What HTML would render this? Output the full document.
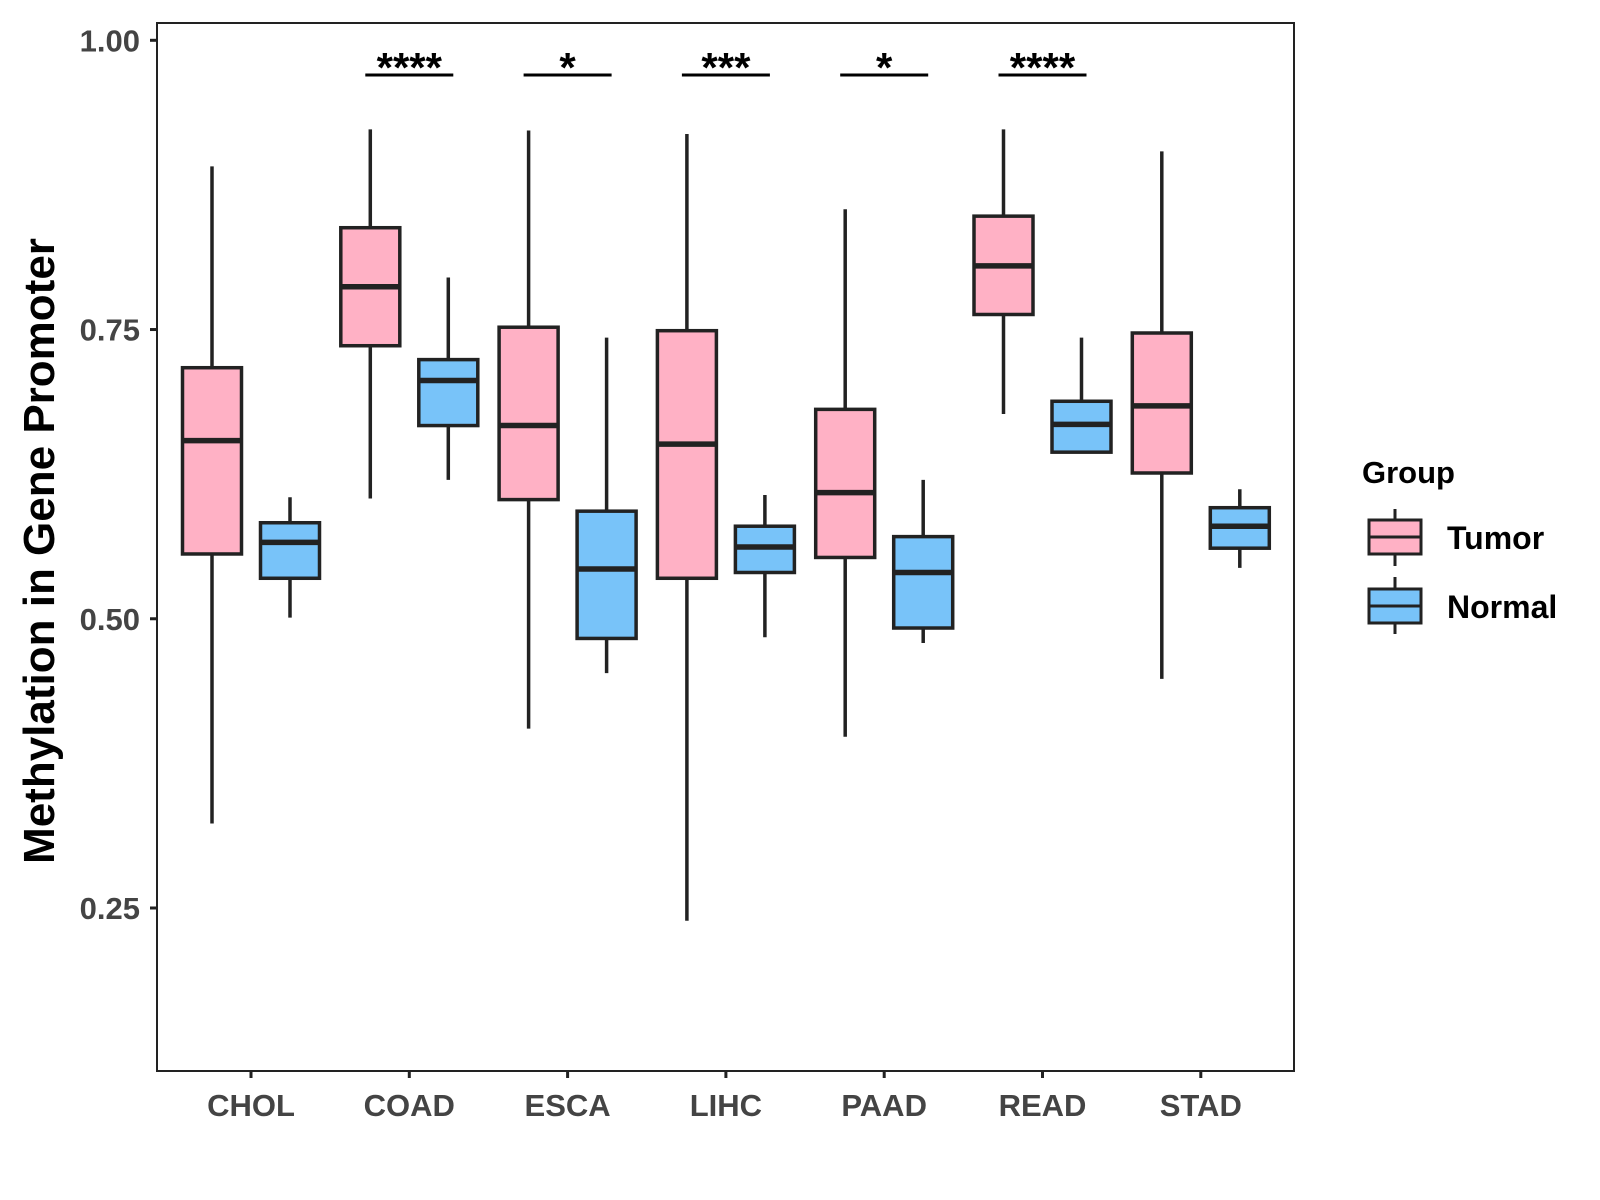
<!DOCTYPE html>
<html><head><meta charset="utf-8"><style>
body{margin:0;background:#fff}
svg{display:block;font-family:"Liberation Sans",Arial,sans-serif;font-weight:bold}
</style></head><body>
<svg id="chart" width="1600" height="1200" viewBox="0 0 1600 1200" xmlns="http://www.w3.org/2000/svg">
<rect x="157" y="23" width="1137" height="1048" fill="#fff" stroke="#222" stroke-width="2"/>
<g id="yaxis"></g>
<g id="xaxis"></g>
<g id="boxes"></g>
<g id="sig"></g>
<text transform="translate(54,551) rotate(-90)" text-anchor="middle" font-size="44" fill="#000">Methylation in Gene Promoter</text>
<g>
<text x="1362" y="483" font-size="31" fill="#000">Group</text>
<g>
<line x1="1395" y1="509" x2="1395" y2="566" stroke="#222" stroke-width="3"/>
<rect x="1369" y="520" width="52" height="34" fill="#ffb1c5" stroke="#222" stroke-width="3"/>
<line x1="1369" y1="537" x2="1421" y2="537" stroke="#222" stroke-width="3"/>
<text x="1447" y="549" font-size="32" fill="#000">Tumor</text></g>
<g>
<line x1="1395" y1="577" x2="1395" y2="634" stroke="#222" stroke-width="3"/>
<rect x="1369" y="589" width="52" height="34" fill="#78c3f9" stroke="#222" stroke-width="3"/>
<line x1="1369" y1="606" x2="1421" y2="606" stroke="#222" stroke-width="3"/>
<text x="1447" y="618" font-size="32" fill="#000">Normal</text></g>
</g>
</svg>
<script>
const categories=["CHOL","COAD","ESCA","LIHC","PAAD","READ","STAD"];
const tumorLow=[0.323,0.604,0.405,0.239,0.398,0.677,0.448];
const tumorQ1=[0.556,0.736,0.603,0.535,0.553,0.763,0.626];
const tumorMed=[0.654,0.787,0.667,0.651,0.609,0.805,0.684];
const tumorQ3=[0.717,0.838,0.752,0.749,0.681,0.848,0.747];
const tumorHigh=[0.891,0.923,0.922,0.919,0.854,0.923,0.904];
const normalLow=[0.501,0.620,0.453,0.484,0.479,0.644,0.544];
const normalQ1=[0.535,0.667,0.483,0.540,0.492,0.644,0.561];
const normalMed=[0.566,0.706,0.543,0.562,0.540,0.668,0.580];
const normalQ3=[0.583,0.724,0.593,0.580,0.571,0.688,0.596];
const normalHigh=[0.605,0.795,0.743,0.607,0.620,0.743,0.612];
const sigLabels=["","****","*","***","*","****",""];
const yTicks=[0.25,0.5,0.75,1.0];
const yTickLabels=["0.25","0.50","0.75","1.00"];
const sigLevel=0.970;

const NS="http://www.w3.org/2000/svg";
const y=v=>908-(v-0.25)*(867.7/0.75);
const x=i=>251+i*158.3;
function mk(tag,attrs,parent){const e=document.createElementNS(NS,tag);for(const k in attrs)e.setAttribute(k,attrs[k]);parent.appendChild(e);return e;}
const ya=document.getElementById('yaxis'),xa=document.getElementById('xaxis'),bx=document.getElementById('boxes'),sg=document.getElementById('sig');
yTicks.forEach((t,i)=>{
  const l=mk('line',{x1:150,x2:157,y1:y(t),y2:y(t),stroke:'#222','stroke-width':3},ya);
  
  
  const tx=mk('text',{x:140,y:y(t)+11,'text-anchor':'end','font-size':31,fill:'#444'},ya);
  
  
  tx.textContent=yTickLabels[i];
});
categories.forEach((c,i)=>{
  const l=mk('line',{x1:x(i),x2:x(i),y1:1071,y2:1078,stroke:'#222','stroke-width':3},xa);
  
  
  const tx=mk('text',{x:x(i),y:1116,'text-anchor':'middle','font-size':31,fill:'#444'},xa);
  
  
  tx.textContent=c;
  const groups=[[-39,'#ffb1c5',tumorLow,tumorQ1,tumorMed,tumorQ3,tumorHigh,'tumor'],[39,'#78c3f9',normalLow,normalQ1,normalMed,normalQ3,normalHigh,'normal']];
  groups.forEach(g=>{
    const cx=x(i)+g[0],w=59;
    const grp=mk('g',{},bx);
    
    
    mk('line',{x1:cx,x2:cx,y1:y(g[6][i]),y2:y(g[2][i]),stroke:'#222','stroke-width':3.5},grp);
    mk('rect',{x:cx-w/2,y:y(g[5][i]),width:w,height:Math.max(0,y(g[3][i])-y(g[5][i])),fill:g[1],stroke:'#222','stroke-width':3.5},grp);
    mk('line',{x1:cx-w/2,x2:cx+w/2,y1:y(g[4][i]),y2:y(g[4][i]),stroke:'#222','stroke-width':5.5},grp);
  });
  if(sigLabels[i]){
    const l=mk('line',{x1:x(i)-44,x2:x(i)+44,y1:y(sigLevel),y2:y(sigLevel),stroke:'#000','stroke-width':3},sg);
    
    
    const tx=mk('text',{x:x(i),y:y(sigLevel)+7,'text-anchor':'middle','font-size':42,fill:'#000'},sg);
    
    
    tx.textContent=sigLabels[i];
  }
});
</script>
</body></html>
